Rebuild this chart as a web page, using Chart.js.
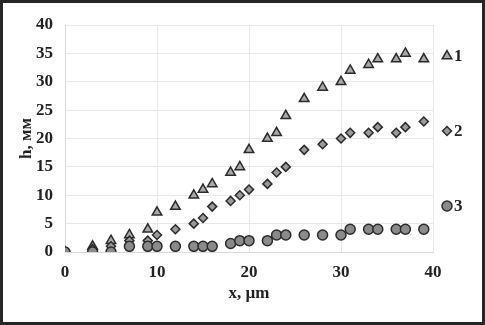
<!DOCTYPE html>
<html>
<head>
<meta charset="utf-8">
<script src="https://cdn.jsdelivr.net/npm/chart.js@4.4.1/dist/chart.umd.min.js"></script>
<style>
  html, body { margin: 0; padding: 0; background: #fff; }
  #wrap { width: 485px; height: 325px; position: relative; }
</style>
</head>
<body>
<div id="wrap"><canvas id="chart" width="485" height="325"></canvas></div>
<script>
// x positions (µm) shared by all three curves
const xValues = [0, 3, 5, 7, 9, 10, 12, 14, 15, 16, 18, 19, 20, 22, 23, 24, 26, 28, 30, 31, 33, 34, 36, 37, 39];
// h, мм
const series1 = [0, 1, 2, 3, 4, 7, 8, 10, 11, 12, 14, 15, 18, 20, 21, 24, 27, 29, 30, 32, 33, 34, 34, 35, 34];
const series2 = [0, 0.5, 1, 2, 2, 3, 4, 5, 6, 8, 9, 10, 11, 12, 14, 15, 18, 19, 20, 21, 21, 22, 21, 22, 23];
const series3 = [0, 0, 0, 1, 1, 1, 1, 1, 1, 1, 1.5, 2, 2, 2, 3, 3, 3, 3, 3, 4, 4, 4, 4, 4, 4];
const seriesNames = ['1', '2', '3'];
const xTicks = [0, 10, 20, 30, 40];
const yTicks = [0, 5, 10, 15, 20, 25, 30, 35, 40];

const FONT = 'Liberation Serif';
const toPoints = ys => ys.map((y, i) => ({ x: xValues[i], y }));

const markers = [
  { style: 'triangle', radius: 5.5, fill: '#a9a9a9' },
  { style: 'rectRot', radius: 4.5, fill: '#9a9a9a' },
  { style: 'circle', radius: 5, fill: '#8a8a8a' },
];

const sideLegend = {
  id: 'sideLegend',
  afterDraw(chart) {
    const ctx = chart.ctx;
    const rows = [56, 131, 206];
    ctx.save();
    seriesNames.forEach((name, i) => {
      const m = markers[i];
      ctx.fillStyle = m.fill;
      ctx.strokeStyle = '#2b2b2b';
      ctx.lineWidth = 1.5;
      Chart.helpers.drawPoint(ctx, { pointStyle: m.style, radius: m.radius, borderWidth: 1.5 }, 447, rows[i]);
      ctx.fillStyle = '#222';
      ctx.font = 'bold 17px "' + FONT + '"';
      ctx.textAlign = 'left';
      ctx.textBaseline = 'middle';
      ctx.fillText(name, 454, rows[i] + 1);
    });
    // frame around the figure
    ctx.strokeStyle = '#262626';
    ctx.lineWidth = 3;
    ctx.strokeRect(1.5, 1.5, 482, 322);
    ctx.restore();
  },
};

new Chart(document.getElementById('chart'), {
  type: 'scatter',
  data: {
    datasets: [series3, series2, series1].map((ys, k) => {
      const m = markers[2 - k];
      return {
        label: seriesNames[2 - k],
        data: toPoints(ys),
        pointStyle: m.style,
        pointRadius: m.radius,
        pointBackgroundColor: m.fill,
        pointBorderColor: '#2b2b2b',
        pointBorderWidth: 1.5,
      };
    }),
  },
  options: {
    responsive: false,
    animation: false,
    events: [],
    layout: { padding: { left: 16, top: 25, right: 52, bottom: 17 } },
    scales: {
      x: {
        type: 'linear',
        min: 0,
        max: 40,
        afterBuildTicks: s => { s.ticks = xTicks.map(v => ({ value: v })); },
        afterFit: s => { s.height = 56; },
        border: { display: true, color: '#d9d9d9' },
        grid: { color: '#e8e8e8', drawTicks: false },
        ticks: { padding: 10, color: '#222', font: { family: FONT, size: 17, weight: 'bold' } },
        title: {
          display: true,
          text: 'x, µm',
          color: '#222',
          padding: { top: 4 },
          font: { family: FONT, size: 17, weight: 'bold' },
        },
      },
      y: {
        min: 0,
        max: 40,
        afterBuildTicks: s => { s.ticks = yTicks.map(v => ({ value: v })); },
        afterFit: s => { s.width = 49; },
        border: { display: true, color: '#d9d9d9' },
        grid: { color: '#e8e8e8', drawTicks: false },
        ticks: { padding: 12, color: '#222', font: { family: FONT, size: 17, weight: 'bold' } },
        title: {
          display: true,
          text: 'h, мм',
          color: '#222',
          padding: { top: 0, bottom: 0 },
          font: { family: FONT, size: 17, weight: 'bold' },
        },
      },
    },
    plugins: {
      legend: { display: false },
      tooltip: { enabled: false },
    },
  },
  plugins: [sideLegend],
});
</script>
</body>
</html>
